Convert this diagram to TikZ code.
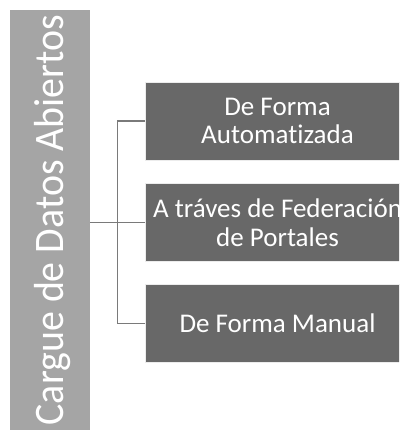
\documentclass[tikz,border=0pt]{standalone}
\usepackage{fontspec}
\setmainfont{Carlito}[Ligatures=NoCommon]
\newfontfamily\barfont{Carlito}[Ligatures=NoCommon,FakeStretch=0.95]
\definecolor{barfill}{HTML}{A5A5A5}
\definecolor{leaffill}{HTML}{686868}
\definecolor{linkcol}{HTML}{7A7A7A}
\begin{document}
\begin{tikzpicture}[x=1pt,y=1pt,
  bar/.style={rectangle, fill=barfill, inner sep=0pt, minimum width=420pt, minimum height=80pt,
    rotate=90, text=white, text height=30pt, text depth=4pt,
    font=\barfont\fontsize{42}{46}\selectfont},
  leaf/.style={rectangle, fill=leaffill, draw=white!85!gray, line width=0.6pt, inner sep=0pt,
    minimum width=265pt, minimum height=78pt, align=center, text=white,
    font=\fontsize{27}{28.5}\selectfont},
  link/.style={draw=linkcol, line width=1.4pt}]
\useasboundingbox (0,0) rectangle (399,431);
\clip (0,0) rectangle (399,431);
\node[bar] (main) at (50,211) {Cargue de Datos Abiertos};
\node[leaf] (b1) at (277.5,310) {De Forma\\Automatizada};
\node[leaf] (b2) at (277.5,208.5) {A tráves de Federación\\de Portales};
\node[leaf] (b3) at (277.5,107.5) {De Forma Manual};
\coordinate (j) at (117.5,208.5);
\draw[link] (main.south |- b2.west) -- (b2.west);
\draw[link] (b1.west) -| (j) |- (b3.west);
\end{tikzpicture}
\end{document}
